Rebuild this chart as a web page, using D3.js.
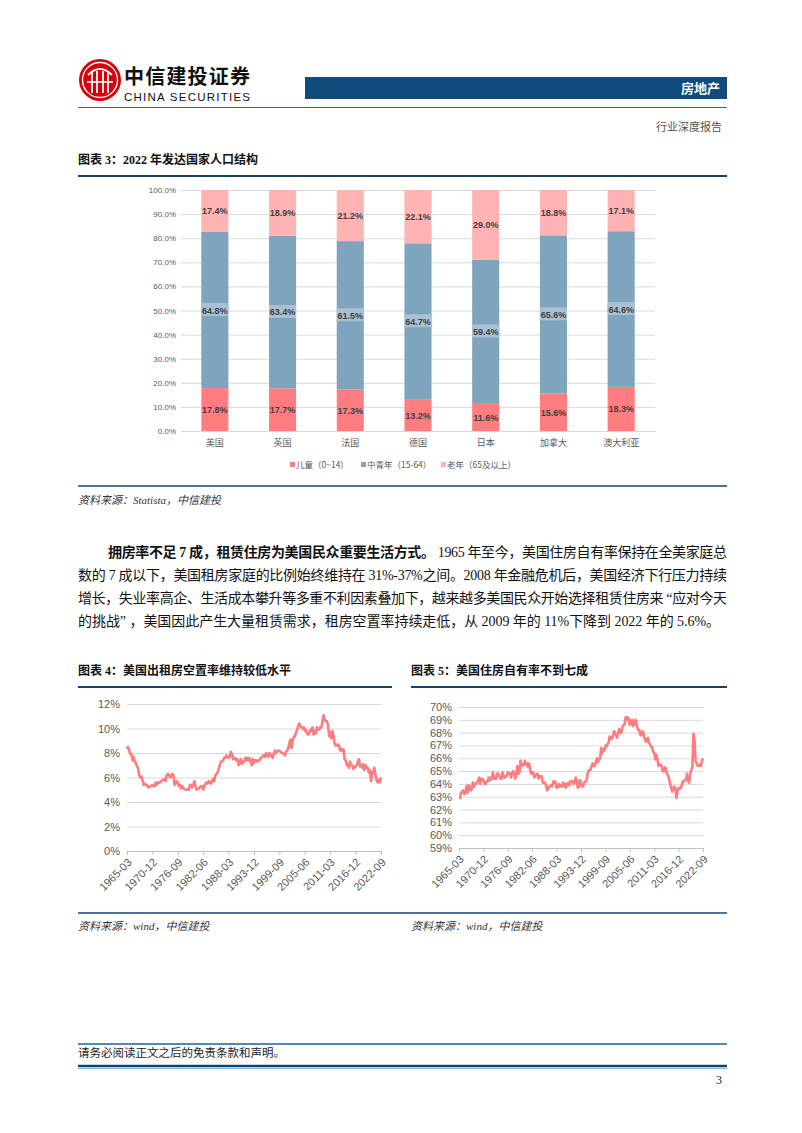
<!DOCTYPE html>
<html>
<head>
<meta charset="utf-8">
<script src="https://cdn.jsdelivr.net/npm/d3@7/dist/d3.min.js"></script>
<style>
  body { margin: 0; background: #fff; }
  svg { display: block; }
</style>
</head>
<body>
<svg id="page" width="802" height="1133"></svg>
<script>
// chart 3 data
const countries = ["美国", "英国", "法国", "德国", "日本", "加拿大", "澳大利亚"];
const children = [17.8, 17.7, 17.3, 13.2, 11.6, 15.6, 18.3];
const adults = [64.8, 63.4, 61.5, 64.7, 59.4, 65.6, 64.6];
const seniors = [17.4, 18.9, 21.2, 22.1, 29.0, 18.8, 17.1];
const ageGroups = ["儿童（0~14）", "中青年（15-64）", "老年（65及以上）"];
const pctTicks = [0, 10, 20, 30, 40, 50, 60, 70, 80, 90, 100];

// chart 4 / 5 : quarterly, 1965Q1 .. 2022Q3
const quarterTicks = ["1965-03", "1970-12", "1976-09", "1982-06", "1988-03", "1993-12",
    "1999-09", "2005-06", "2011-03", "2016-12", "2022-09"];

const vacancyRate = [
    8.3, 8.5, 8.2, 7.9, 7.9, 7.4, 7.7, 7.3, 7.2, 6.9, 6.8, 6.2, 6.0, 6.1, 5.8, 5.4,
    5.5, 5.4, 5.4, 5.2, 5.2, 5.3, 5.3, 5.4, 5.3, 5.3, 5.6, 5.4, 5.6, 5.6, 5.6, 5.7,
    5.8, 5.8, 5.9, 5.7, 6.2, 6.3, 6.2, 6.0, 6.1, 6.3, 6.2, 5.4, 5.5, 5.7, 5.6, 5.3,
    5.4, 5.1, 5.3, 5.1, 5.1, 5.0, 5.0, 5.0, 5.0, 5.4, 5.4, 5.2, 5.4, 5.7, 5.3, 5.0,
    5.1, 5.1, 5.2, 5.3, 5.3, 5.0, 5.3, 5.5, 5.6, 5.5, 5.7, 5.6, 5.5, 5.7, 5.9, 5.7,
    6.2, 6.3, 6.4, 6.7, 7.0, 7.3, 7.3, 7.4, 7.6, 7.6, 7.8, 7.7, 7.6, 7.7, 8.1, 7.9,
    7.5, 7.5, 7.6, 7.4, 7.5, 7.0, 7.2, 7.5, 7.1, 7.3, 7.3, 7.6, 7.4, 7.6, 7.4, 7.6,
    7.3, 7.0, 7.5, 7.2, 7.4, 7.4, 7.3, 7.4, 7.4, 7.6, 7.6, 7.8, 7.8, 7.7, 8.0, 7.8,
    7.7, 8.0, 7.9, 7.7, 7.6, 8.0, 8.2, 8.0, 8.1, 8.2, 8.2, 8.1, 8.0, 8.0, 7.9, 7.8,
    8.1, 8.2, 8.4, 8.8, 9.1, 8.4, 9.0, 9.3, 9.4, 9.6, 9.9, 10.2, 10.4, 10.2, 10.1, 10.0,
    10.1, 9.8, 9.9, 9.6, 9.5, 9.6, 9.9, 9.8, 10.1, 9.5, 9.8, 9.6, 10.1, 10.0, 9.9, 10.1,
    10.1, 10.6, 11.1, 10.7, 10.6, 10.6, 10.3, 9.4, 9.7, 9.2, 9.8, 9.4, 8.8, 8.6, 8.6, 8.7,
    8.6, 8.2, 8.3, 8.2, 8.3, 7.5, 7.4, 7.0, 7.1, 6.8, 7.3, 7.0, 7.0, 6.7, 6.8, 6.9,
    7.0, 7.3, 7.5, 6.9, 7.0, 6.8, 7.1, 6.6, 7.0, 6.8, 6.8, 6.4, 6.6, 5.7, 6.4, 6.5,
    6.8, 6.2, 5.8, 5.6, 5.8, 5.6, 6.0
];

const homeownership = [
    62.9, 62.9, 63.3, 63.4, 63.5, 63.2, 63.3, 63.8, 63.3, 63.9, 63.8, 63.5, 63.6, 64.1, 63.8, 64.0,
    64.0, 64.1, 64.3, 64.5, 64.0, 64.4, 64.4, 64.3, 64.0, 64.0, 64.2, 64.2, 64.5, 64.3, 64.5, 64.4,
    64.9, 64.4, 64.4, 64.4, 64.8, 64.8, 64.6, 64.4, 64.4, 64.9, 64.6, 64.5, 64.6, 64.6, 64.9, 64.8,
    64.8, 64.5, 64.8, 65.0, 64.8, 64.4, 64.8, 65.4, 64.8, 64.9, 65.8, 65.4, 65.5, 65.5, 65.8, 65.5,
    65.6, 65.3, 65.6, 65.2, 64.8, 64.9, 64.9, 64.5, 64.7, 64.7, 64.8, 64.4, 64.6, 64.6, 64.6, 64.1,
    64.1, 64.1, 63.9, 63.5, 63.6, 63.8, 63.8, 63.9, 63.8, 64.2, 64.2, 64.1, 63.7, 63.7, 64.0, 63.8,
    63.9, 63.8, 64.1, 63.8, 64.0, 63.7, 64.0, 64.1, 63.9, 64.2, 64.2, 64.2, 64.0, 64.1, 64.5, 64.3,
    63.7, 63.8, 64.3, 64.0, 63.8, 63.8, 64.1, 64.2, 64.2, 64.7, 65.0, 65.1, 65.1, 65.4, 65.6, 65.4,
    65.4, 65.7, 66.0, 65.7, 65.9, 66.0, 66.8, 66.4, 66.7, 66.6, 67.0, 66.9, 67.1, 67.2, 67.7, 67.5,
    67.5, 67.7, 68.1, 68.0, 67.8, 67.6, 68.0, 68.3, 68.0, 68.0, 68.4, 68.6, 68.6, 69.2, 69.0, 69.2,
    69.1, 68.6, 68.8, 69.0, 68.5, 68.7, 69.0, 68.9, 68.4, 68.2, 68.2, 67.8, 67.8, 68.1, 67.9, 67.5,
    67.3, 67.4, 67.6, 67.2, 67.1, 66.9, 66.9, 66.5, 66.4, 65.9, 66.3, 66.0, 65.4, 65.5, 65.5, 65.4,
    65.0, 65.0, 65.3, 65.2, 64.8, 64.7, 64.4, 64.0, 63.7, 63.4, 63.7, 63.8, 63.6, 62.9, 63.5, 63.7,
    63.6, 63.7, 63.9, 64.2, 64.2, 64.3, 64.4, 64.8, 64.2, 64.1, 64.8, 65.1, 65.3, 67.9, 67.4, 65.8,
    65.6, 65.4, 65.4, 65.5, 65.4, 65.8, 66.0
];

const paragraph = [
    { x: 108, len: 619, parts: [["拥房率不足 7 成，租赁住房为美国民众重要生活方式。", true],
        [" 1965 年至今，美国住房自有率保持在全美家庭总", false]] },
    { x: 78, len: 649, parts: [["数的 7 成以下，美国租房家庭的比例始终维持在  31%-37%之间。2008 年金融危机后，美国经济下行压力持续", false]] },
    { x: 78, len: 649, parts: [["增长，失业率高企、生活成本攀升等多重不利因素叠加下，越来越多美国民众开始选择租赁住房来 “应对今天", false]] },
    { x: 78, len: 642, parts: [["的挑战” ，美国因此产生大量租赁需求，租房空置率持续走低，从 2009 年的 11%下降到 2022 年的 5.6%。", false]] }
];

const sans = "'Liberation Sans', Arial, 'Noto Sans CJK SC', sans-serif";
const serif = "'Liberation Serif', 'Times New Roman', 'Noto Sans CJK SC', serif";
const cjk = "'Noto Sans CJK SC', 'Liberation Sans', sans-serif";
const navy = "#17436b";

let svg = d3.select("#page");

// ---------- page header ----------
let logo = svg.append("g").attr("transform", "translate(100,80)");
logo.append("circle").attr("r", 21).attr("fill", "#d9000d");
logo.append("circle").attr("r", 17.5).attr("fill", "none").attr("stroke", "#fff").attr("stroke-width", 1.4);
[-8, -3, 3, 8].forEach(function(dx) {
    logo.append("line").attr("x1", dx).attr("x2", dx).attr("y1", -9).attr("y2", 13)
        .attr("stroke", "#fff").attr("stroke-width", 1.8);
});
logo.append("path").attr("d", "M-12,-5 Q0,-17 12,-5").attr("fill", "none")
    .attr("stroke", "#fff").attr("stroke-width", 1.8);
logo.append("line").attr("x1", -13).attr("x2", 13).attr("y1", 2).attr("y2", 2)
    .attr("stroke", "#fff").attr("stroke-width", 1.6);

svg.append("text").attr("x", 124).attr("y", 84)
    .style("font-family", cjk).style("font-weight", "bold").style("font-size", "20px")
    .attr("fill", "#111").attr("textLength", 126).text("中信建投证券");
svg.append("text").attr("x", 124).attr("y", 101)
    .style("font-family", sans).style("font-size", "11.5px").attr("fill", "#111")
    .attr("textLength", 126).text("CHINA SECURITIES");

svg.append("rect").attr("x", 305).attr("y", 77).attr("width", 422).attr("height", 22)
    .attr("fill", "#0f4c7d");
svg.append("text").attr("x", 720).attr("y", 93).attr("text-anchor", "end")
    .style("font-family", cjk).style("font-weight", "bold").style("font-size", "13px")
    .attr("fill", "#fff").text("房地产");
svg.append("line").attr("x1", 78).attr("x2", 727).attr("y1", 107.5).attr("y2", 107.5)
    .attr("stroke", "#2d6a98").attr("stroke-width", 1.2);
svg.append("text").attr("x", 722).attr("y", 131).attr("text-anchor", "end")
    .style("font-family", cjk).style("font-size", "11px").attr("fill", "#555").text("行业深度报告");

// ---------- chart 3 : stacked bars ----------
function title(x, y, w, label) {
    svg.append("text").attr("x", x).attr("y", y)
        .style("font-family", "'Liberation Serif', 'Noto Sans CJK SC', serif")
        .style("font-weight", "bold").style("font-size", "12px").attr("fill", "#111").text(label);
    svg.append("line").attr("x1", x).attr("x2", x + w).attr("y1", y + 12).attr("y2", y + 12)
        .attr("stroke", navy).attr("stroke-width", 2);
}
title(78, 164, 649, "图表 3：2022 年发达国家人口结构");

let c3 = { left: 181, right: 655, top: 190, bottom: 431 };
let rows = countries.map(function(c, i) {
    return { country: c, children: children[i], adults: adults[i], seniors: seniors[i] };
});
let keys = ["children", "adults", "seniors"];
let colors = { children: "#ff7c80", adults: "#7fa4bd", seniors: "#ffb3b3" };

let xBand = d3.scaleBand().domain(countries).range([c3.left, c3.right]).paddingInner(0.6).paddingOuter(0.3);
let yPct = d3.scaleLinear().domain([0, 100]).range([c3.bottom, c3.top]);

let plot3 = svg.append("g").attr("id", "plot3");
let yAxis3 = d3.axisLeft(yPct).tickValues(pctTicks).tickSize(-(c3.right - c3.left))
    .tickFormat(function(d) { return d.toFixed(1) + "%"; });
let yg3 = plot3.append("g").attr("transform", "translate(" + c3.left + ",0)").call(yAxis3);
yg3.select(".domain").remove();
yg3.selectAll(".tick line").attr("stroke", "#d9d9d9");
yg3.selectAll(".tick text").attr("x", -5).attr("fill", "#595959")
    .style("font-family", sans).style("font-size", "8px");

let stacked = d3.stack().keys(keys)(rows);
stacked.forEach(function(layer) {
    plot3.append("g").selectAll("rect").data(layer).enter().append("rect")
        .attr("x", function(d) { return xBand(d.data.country); })
        .attr("width", xBand.bandwidth())
        .attr("y", function(d) { return yPct(d[1]); })
        .attr("height", function(d) { return yPct(d[0]) - yPct(d[1]); })
        .attr("fill", colors[layer.key]);
});
stacked.forEach(function(layer) {
    let lab = plot3.append("g").selectAll("g").data(layer).enter().append("g")
        .attr("transform", function(d) {
            return "translate(" + (xBand(d.data.country) + xBand.bandwidth() / 2) + "," + yPct((d[0] + d[1]) / 2) + ")";
        });
    if (layer.key === "adults") {
        lab.append("rect").attr("x", -xBand.bandwidth() / 2).attr("y", -7)
            .attr("width", xBand.bandwidth()).attr("height", 13).attr("fill", "#a9c1d3");
    }
    lab.append("text").attr("y", 3.5).attr("text-anchor", "middle")
        .style("font-family", sans).style("font-size", "9px").style("font-weight", "bold")
        .attr("fill", "#3f3f3f")
        .text(function(d) { return d.data[layer.key].toFixed(1) + "%"; });
});

let xAxis3 = d3.axisBottom(xBand).tickSize(0).tickPadding(9);
let xg3 = plot3.append("g").attr("transform", "translate(0," + c3.bottom + ")").call(xAxis3);
xg3.select(".domain").attr("stroke", "#d9d9d9");
xg3.selectAll("text").attr("fill", "#595959").style("font-family", cjk).style("font-size", "9px");

let legend = plot3.append("g");
let legendX = [290, 361, 441];
keys.forEach(function(k, i) {
    legend.append("rect").attr("x", legendX[i]).attr("y", 462).attr("width", 5).attr("height", 5)
        .attr("fill", colors[k]);
    legend.append("text").attr("x", legendX[i] + 6).attr("y", 468)
        .style("font-family", cjk).style("font-size", "8.5px").attr("fill", "#595959").text(ageGroups[i]);
});

svg.append("line").attr("x1", 78).attr("x2", 727).attr("y1", 486).attr("y2", 486)
    .attr("stroke", navy).attr("stroke-width", 1.5);
function source(x, y, label) {
    svg.append("text").attr("x", x).attr("y", y)
        .style("font-family", serif).style("font-style", "italic").style("font-size", "11px")
        .attr("fill", "#333").text(label);
}
source(78, 504, "资料来源：Statista，中信建投");

// ---------- paragraph ----------
paragraph.forEach(function(line, i) {
    let t = svg.append("text").attr("x", line.x).attr("y", 557 + i * 23)
        .style("font-family", serif).style("font-size", "14px").attr("fill", "#111")
        .attr("textLength", line.len).attr("lengthAdjust", "spacing");
    line.parts.forEach(function(p) {
        t.append("tspan").style("font-weight", p[1] ? "bold" : "normal").text(p[0]);
    });
});

// ---------- charts 4 and 5 : quarterly lines ----------
title(78, 675, 314, "图表 4：美国出租房空置率维持较低水平");
title(411, 675, 316, "图表 5：美国住房自有率不到七成");

function tickIndex(label) {
    let parts = label.split("-");
    return (+parts[0] - 1965) * 4 + (+parts[1] / 3 - 1);
}

function drawLine(id, values, box, yDomain, yTickVals) {
    let g = svg.append("g").attr("id", id);
    let x = d3.scaleLinear().domain([0, values.length - 1]).range([box.left, box.right]);
    let y = d3.scaleLinear().domain(yDomain).range([box.bottom, box.top]);

    let yAxis = d3.axisLeft(y).tickValues(yTickVals).tickSize(-(box.right - box.left))
        .tickFormat(function(d) { return d + "%"; });
    let yg = g.append("g").attr("transform", "translate(" + box.left + ",0)").call(yAxis);
    yg.select(".domain").remove();
    yg.selectAll(".tick line").attr("stroke", "#d9d9d9");
    yg.selectAll(".tick text").attr("x", -7).attr("fill", "#595959")
        .style("font-family", sans).style("font-size", "11px");

    let xAxis = d3.axisBottom(x).tickValues(quarterTicks.map(tickIndex)).tickSize(4)
        .tickFormat(function(d, i) { return quarterTicks[i]; });
    let xg = g.append("g").attr("transform", "translate(0," + box.bottom + ")").call(xAxis);
    xg.select(".domain").attr("stroke", "#bfbfbf");
    xg.selectAll(".tick line").attr("stroke", "#bfbfbf");
    xg.selectAll(".tick text")
        .attr("text-anchor", "end").attr("dy", 0).attr("y", 0)
        .attr("transform", "translate(5,12) rotate(-45)")
        .attr("fill", "#595959").style("font-family", sans).style("font-size", "11px");

    let line = d3.line()
        .x(function(d, i) { return x(i); })
        .y(function(d) { return y(d); });
    g.append("path").datum(values).attr("d", line)
        .attr("fill", "none").attr("stroke", "#ff7c80").attr("stroke-width", 2.6)
        .attr("stroke-linejoin", "round");
}

drawLine("vacancy", vacancyRate, { left: 127, right: 381, top: 704, bottom: 851 },
    [0, 12], [0, 2, 4, 6, 8, 10, 12]);
drawLine("ownership", homeownership, { left: 459, right: 703, top: 707, bottom: 848 },
    [59, 70], d3.range(59, 71));

svg.append("line").attr("x1", 78).attr("x2", 727).attr("y1", 913).attr("y2", 913)
    .attr("stroke", navy).attr("stroke-width", 1.5);
source(78, 930, "资料来源：wind，中信建投");
source(411, 930, "资料来源：wind，中信建投");

// ---------- footer ----------
svg.append("line").attr("x1", 78).attr("x2", 727).attr("y1", 1044).attr("y2", 1044)
    .attr("stroke", "#1f5f91").attr("stroke-width", 1.6);
svg.append("text").attr("x", 78).attr("y", 1057)
    .style("font-family", serif).style("font-size", "11.5px").attr("fill", "#222")
    .text("请务必阅读正文之后的免责条款和声明。");
svg.append("line").attr("x1", 78).attr("x2", 727).attr("y1", 1066).attr("y2", 1066)
    .attr("stroke", "#17436b").attr("stroke-width", 2.5);
svg.append("line").attr("x1", 78).attr("x2", 727).attr("y1", 1068.5).attr("y2", 1068.5)
    .attr("stroke", "#8fb6d6").attr("stroke-width", 1);
svg.append("text").attr("x", 722).attr("y", 1084).attr("text-anchor", "end")
    .style("font-family", serif).style("font-size", "12px").attr("fill", "#222").text("3");
</script>
</body>
</html>
